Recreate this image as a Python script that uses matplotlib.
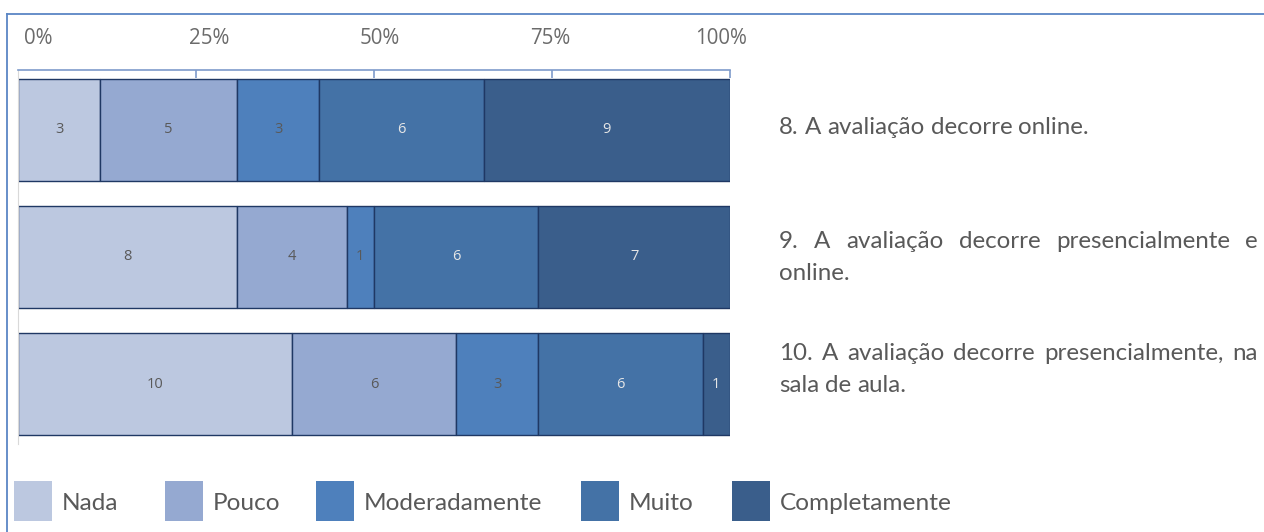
import matplotlib
matplotlib.use('Agg')
import matplotlib.pyplot as plt
from matplotlib.lines import Line2D
from matplotlib.patches import Rectangle
from matplotlib.transforms import IdentityTransform
import numpy as np

# survey answers (counts per level, one entry per question)
questions = [
    "8. A avaliação decorre online.",
    "9. A avaliação decorre presencialmente e online.",
    "10. A avaliação decorre presencialmente, na sala de aula.",
]
levels = ["Nada", "Pouco", "Moderadamente", "Muito", "Completamente"]
nada = [3, 8, 10]
pouco = [5, 4, 6]
moderadamente = [3, 1, 3]
muito = [6, 6, 6]
completamente = [9, 7, 1]
tick_values = [0, 25, 50, 75, 100]
tick_labels = ["0%", "25%", "50%", "75%", "100%"]

colors = ['#BCC8E0', '#95A9D1', '#4E80BC', '#4472A6', '#3A5E8B']
label_colors = ['#595959', '#595959', '#595959', '#E6E6E6', '#E6E6E6']
edge = '#1F3864'
grey = '#595959'

W, H = 1264, 532
fig = plt.figure(figsize=(W / 100, H / 100), dpi=100)
ax_top, ax_bot = 70, 444
ax = fig.add_axes([18 / W, 1 - ax_bot / H, 712 / W, (ax_bot - ax_top) / H])

counts = np.array([nada, pouco, moderadamente, muito, completamente])
pct = counts / counts.sum(axis=0) * 100
ypos = np.arange(len(questions))
left = np.zeros(len(questions))
for i, lev in enumerate(levels):
    bars = ax.barh(ypos, pct[i], left=left, height=0.8, color=colors[i],
                   edgecolor=edge, linewidth=1.0, label=lev)
    ax.bar_label(bars, labels=[str(v) for v in counts[i]], label_type='center',
                 color=label_colors[i], fontsize=10.5, family='Open Sans')
    left += pct[i]

ax.set_xlim(0, 100)
ax.set_ylim(2.47, -0.47)
ax.set_yticks([])
ax.xaxis.tick_top()
ax.set_xticks(tick_values[1:])
ax.set_xticklabels([])
ax.tick_params(axis='x', direction='in', length=6, color='#7E9BCB', width=1.2)
for s in ['right', 'bottom']:
    ax.spines[s].set_visible(False)
ax.spines['top'].set_color('#7E9BCB')
ax.spines['top'].set_linewidth(1.2)
ax.spines['left'].set_color('#D9D9D9')

# percent labels sit a bit off the ticks, like in the original
for v, lab in zip(tick_values, tick_labels):
    ax.text(2.8 + 0.96 * v, 1 + 32 / (ax_bot - ax_top), lab,
            transform=ax.get_xaxis_transform(), ha='center', va='center',
            fontsize=14.8, color='#6B6B6B', family='Open Sans')

# frame lines
fig.add_artist(Line2D([7 / W, 7 / W], [0, 1 - 14 / H], transform=fig.transFigure,
                      color='#5B86C5', lw=1.3))
fig.add_artist(Line2D([7 / W, 1], [1 - 14 / H, 1 - 14 / H], transform=fig.transFigure,
                      color='#5B86C5', lw=1.3))

renderer = fig.canvas.get_renderer()
fs = 17.4
font = dict(fontsize=fs, color=grey, family='Lato', va='baseline')


def line_at(words, x0, y, x1=None):
    texts = [fig.text(0, H - y, w, transform=IdentityTransform(), **font) for w in words]
    widths = [t.get_window_extent(renderer).width for t in texts]
    space = fig.text(0, 0, "a a", transform=IdentityTransform(), **font)
    sw = space.get_window_extent(renderer).width
    space.remove()
    aw = fig.text(0, 0, "aa", transform=IdentityTransform(), **font)
    sw -= aw.get_window_extent(renderer).width
    aw.remove()
    if x1 is not None and len(words) > 1:
        gap = (x1 - x0 - sum(widths)) / (len(words) - 1)
    else:
        gap = sw
    x = x0
    for t, w in zip(texts, widths):
        t.set_x(x)
        x += w + gap


line_at("8. A avaliação decorre online.".split(), 779, 134)
line_at("9. A avaliação decorre presencialmente e".split(), 779, 248, 1258)
line_at(["online."], 779, 280)
line_at("10. A avaliação decorre presencialmente, na".split(), 779, 360, 1258)
line_at("sala de aula.".split(), 779, 392)

# legend row
sq_x = [14, 165, 316, 581, 732]
for i, lev in enumerate(levels):
    fig.add_artist(Rectangle((sq_x[i], H - 521), 38, 40, transform=IdentityTransform(),
                             facecolor=colors[i], edgecolor='none'))
    fig.text(sq_x[i] + 48, H - 501, lev, transform=IdentityTransform(),
             fontsize=17.6, color=grey, family='Lato', va='center_baseline')

fig.savefig('out.png', dpi=100)
